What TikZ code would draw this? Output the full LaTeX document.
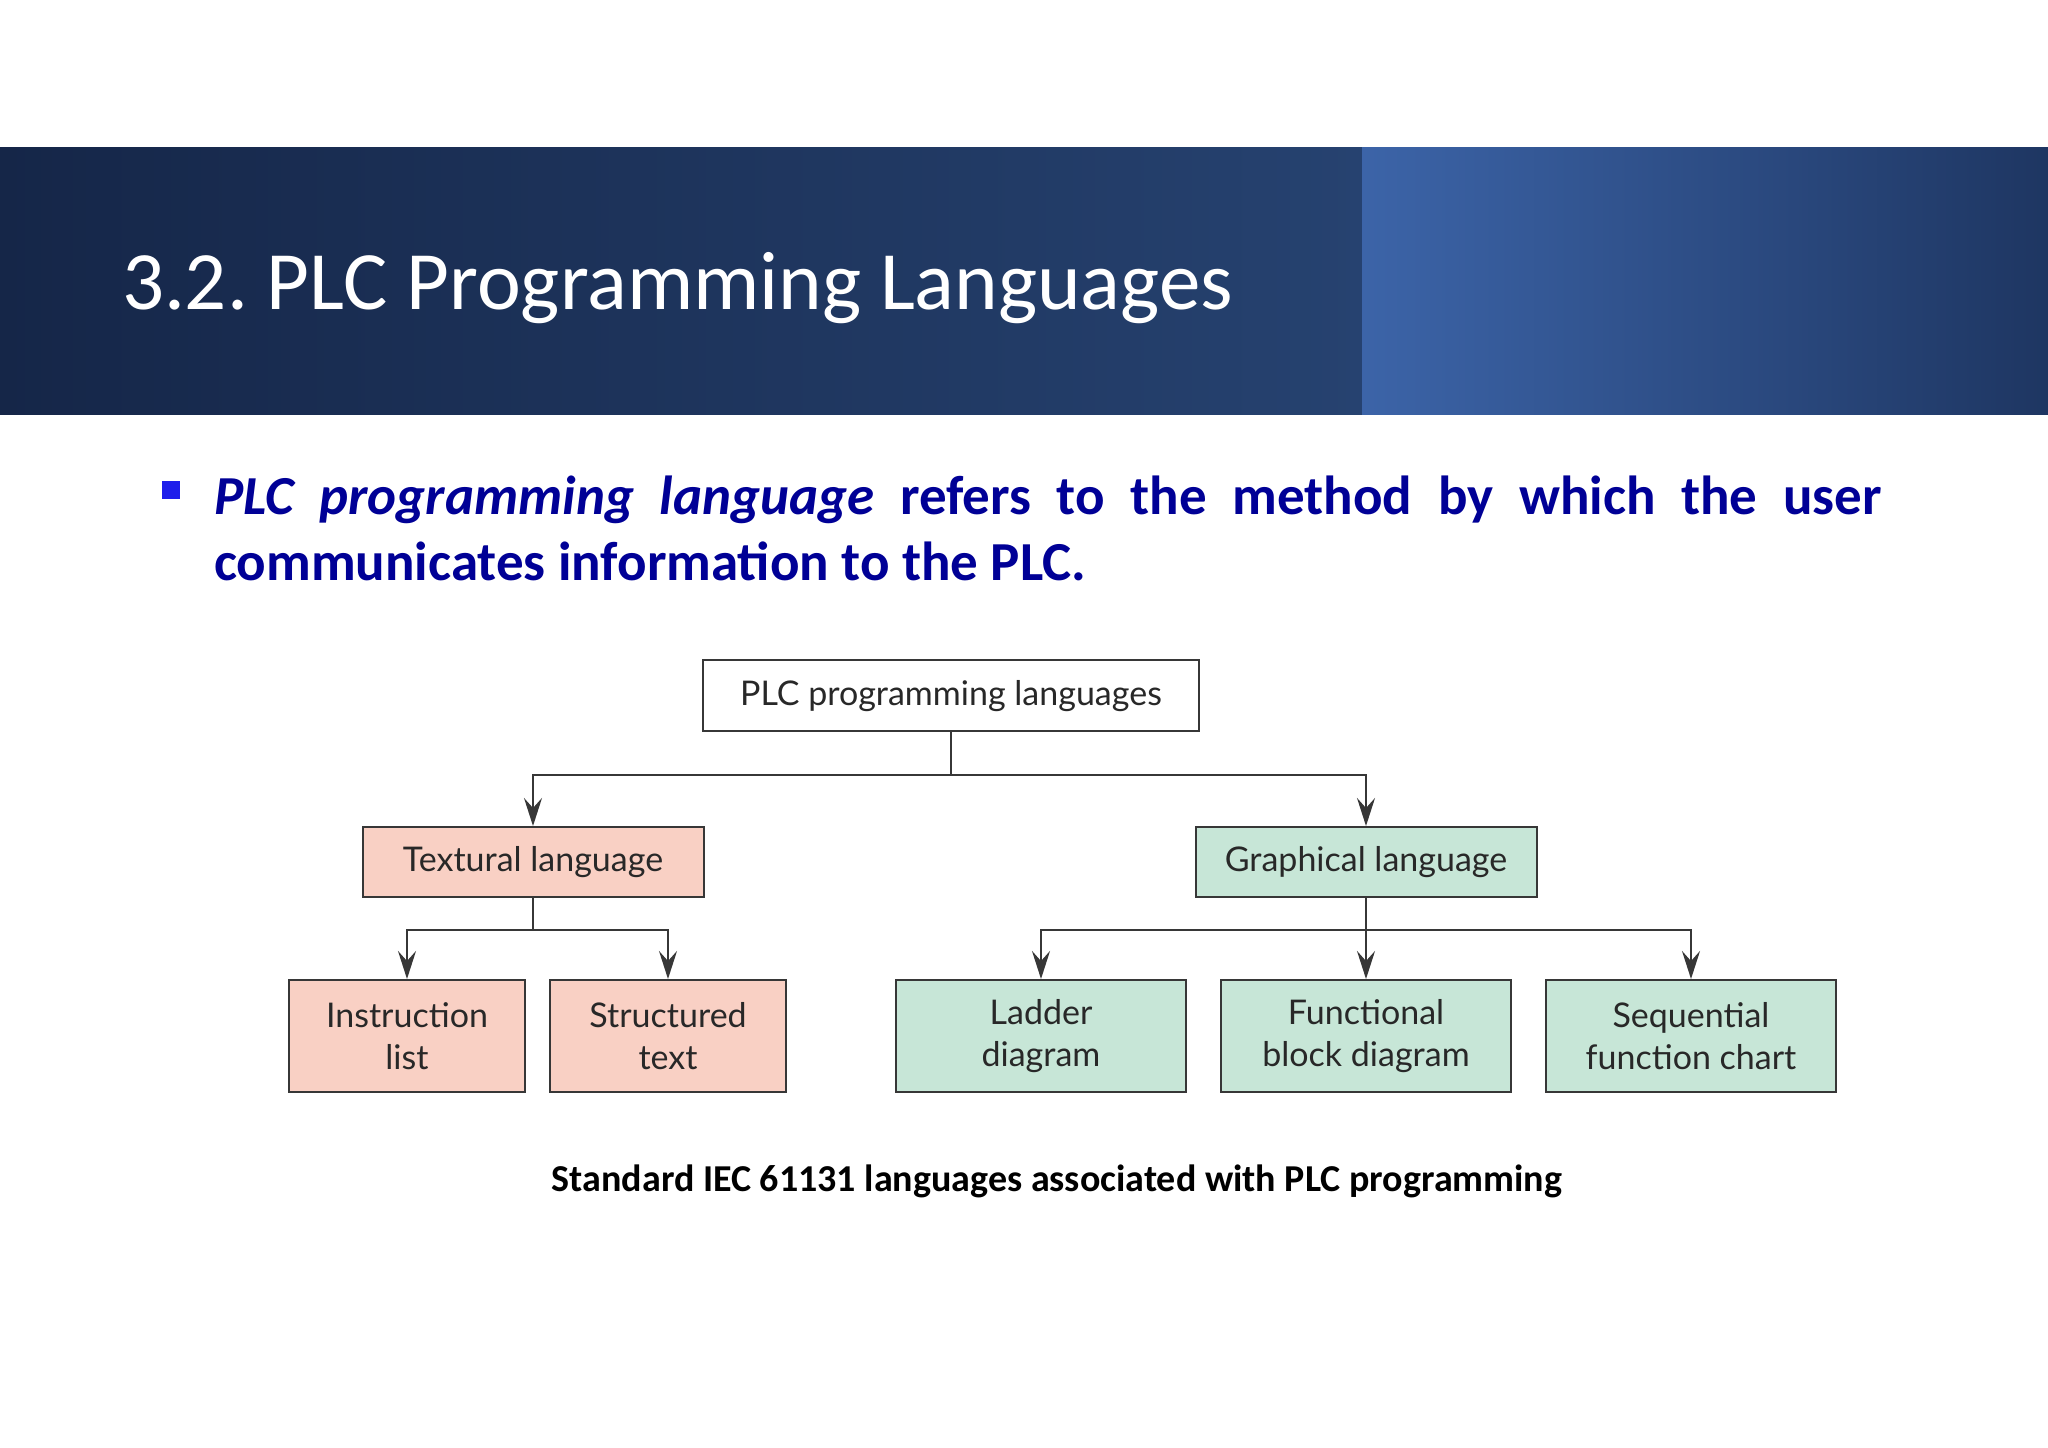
\documentclass[tikz,border=0pt]{standalone}
\usepackage{fontspec}
\setmainfont{Carlito}
\newfontfamily\boxfont{Lato}
\usetikzlibrary{arrows.meta,positioning,calc}
\frenchspacing

\definecolor{bannerDark}{RGB}{21,38,72}
\definecolor{bannerMid}{RGB}{38,66,112}
\definecolor{bannerLight}{RGB}{60,100,168}
\definecolor{bannerRight}{RGB}{30,54,98}
\definecolor{bulletBlue}{RGB}{30,30,235}
\definecolor{textNavy}{RGB}{0,0,150}
\definecolor{textPink}{RGB}{249,208,196}
\definecolor{graphGreen}{RGB}{199,230,215}
\definecolor{boxLine}{RGB}{55,55,55}
\definecolor{boxText}{RGB}{40,40,40}

\begin{document}
\begin{tikzpicture}[x=1pt, y=1pt, line width=2pt, boxLine,
    arrow/.style={-{Stealth[length=28pt,width=18pt,inset=10pt,fill=boxLine]}}]
    \useasboundingbox (0,0) rectangle (2048,1448);
    \fill[white] (0,0) rectangle (2048,1448);

    %Banner
    \shade[left color=bannerDark, right color=bannerMid] (0,1033) rectangle (1362,1300);
    \shade[left color=bannerLight, right color=bannerRight] (1362,1033) rectangle (2048,1300);
    \node (title) [anchor=base west, text=white, inner sep=0pt, font=\fontsize{83}{100}\selectfont] at (121,1138) {3.2. PLC Programming Languages};

    %Bullet text
    \fill[bulletBlue] (162,949) rectangle (180,967);
    \node (defLineA) [anchor=base west, text=textNavy, inner sep=0pt, font=\fontsize{55}{66}\bfseries\selectfont] at (213,933)
        {\makebox[1668pt][s]{\textit{PLC programming language} refers to the method by which the user}};
    \node (defLineB) [anchor=base west, text=textNavy, inner sep=0pt, font=\fontsize{55}{66}\bfseries\selectfont] at ($(defLineA.base west)+(0,-66)$)
        {communicates information to the PLC.};

    %Nodes
    \begin{scope}[every node/.style={rectangle, draw=boxLine, line width=2pt, text=boxText, align=center, inner sep=0pt, font=\boxfont\fontsize{34}{42}\selectfont}]
    \node (PLCLanguages)    [fill=white, minimum width=496pt, minimum height=71pt] at (951,752) {PLC programming languages};
    \node (Textual)         [fill=textPink, minimum width=341pt, minimum height=70pt] at (533,586) {Textural language};
    \node (Graphical)       [fill=graphGreen, minimum width=341pt, minimum height=70pt] at (1366,586) {Graphical language};
    \node (InstructionList) [fill=textPink, minimum width=236pt, minimum height=112pt] at (407,412) {Instruction\\list};
    \node (StructuredText)  [fill=textPink, minimum width=236pt, minimum height=112pt, right=23pt of InstructionList] {Structured\\text};
    \node (Ladder)          [fill=graphGreen, minimum width=290pt, minimum height=112pt] at (1041,412) {Ladder\\diagram};
    \node (FBD)             [fill=graphGreen, minimum width=290pt, minimum height=112pt, right=33pt of Ladder] {Functional\\block diagram};
    \node (SFC)             [fill=graphGreen, minimum width=290pt, minimum height=112pt, right=33pt of FBD] {Sequential\\function chart};
    \end{scope}

    \coordinate (TopSplit)   at ($(PLCLanguages.south)+(0,-43)$);
    \coordinate (TextSplit)  at ($(Textual.south)+(0,-32)$);
    \coordinate (GraphSplit) at ($(Graphical.south)+(0,-32)$);

    %Lines
    \draw[arrow] (PLCLanguages.south) -- (TopSplit) -| (Textual.north);
    \draw[arrow] (TopSplit) -| (Graphical.north);
    \draw[arrow] (Textual.south) -- (TextSplit) -| (InstructionList.north);
    \draw[arrow] (TextSplit) -| (StructuredText.north);
    \draw[arrow] (Graphical.south) -- (GraphSplit) -| (Ladder.north);
    \draw[arrow] (GraphSplit) -- (FBD.north);
    \draw[arrow] (GraphSplit) -| (SFC.north);

    % Caption
    \node (caption) [anchor=base, text=black, inner sep=0pt, font=\fontsize{38}{46}\bfseries\selectfont] at (1057,256) {Standard IEC 61131 languages associated with PLC programming};
\end{tikzpicture}
\end{document}
